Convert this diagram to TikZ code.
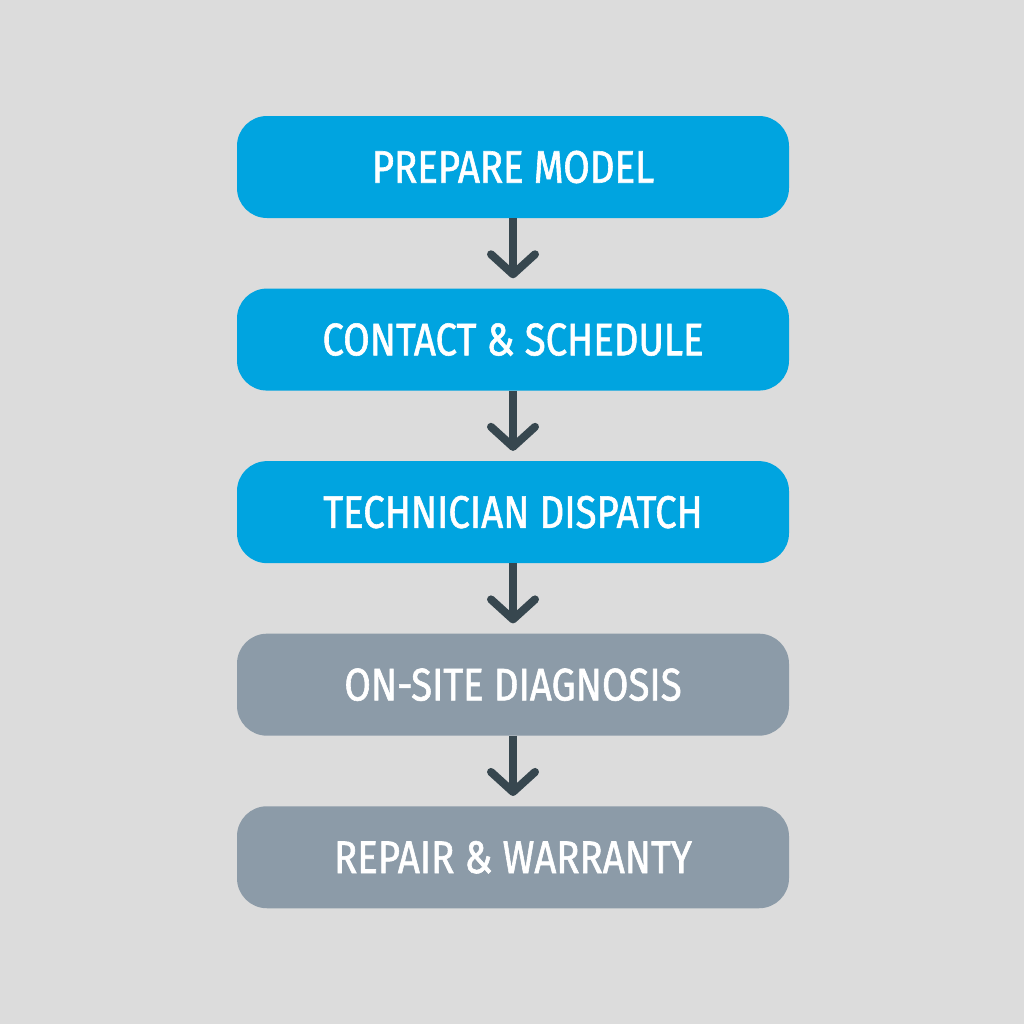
\documentclass[tikz,border=0pt]{standalone}
\usepackage{fontspec}
\setmainfont{Fira Sans}[FakeStretch=0.84,FakeBold=1.3]
\usetikzlibrary{positioning,arrows.meta}
\definecolor{bgGrey}{RGB}{220,220,220}
\definecolor{stepBlue}{RGB}{0,164,224}
\definecolor{stepGrey}{RGB}{140,155,168}
\definecolor{arrowDark}{RGB}{55,71,79}

\begin{document}
\begin{tikzpicture}[->,>={Straight Barb[length=0.5cm,width=1.1cm,round]},shorten >=0.25cm,
  node distance=1.75cm,
  step box/.style={rectangle,rounded corners=0.75cm,minimum width=13.8cm,minimum height=2.55cm,
    inner sep=0pt,text=white,font=\fontsize{32.5}{38}\selectfont},
  blue box/.style={step box,fill=stepBlue},
  grey box/.style={step box,fill=stepGrey}]
  \fill[bgGrey] (0,0) rectangle (25.6,-25.6);
  \useasboundingbox (0,0) rectangle (25.6,-25.6);
   \node[blue box] (s_1) at (12.825,-4.175) {PREPARE MODEL};
   \node[blue box] (s_2) [below=of s_1] {CONTACT \& SCHEDULE};
   \node[blue box] (s_3) [below=of s_2] {TECHNICIAN DISPATCH};
   \node[grey box] (s_4) [below=of s_3] {ON-SITE DIAGNOSIS};
   \node[grey box] (s_5) [below=of s_4] {REPAIR \& WARRANTY};
    \path[draw=arrowDark,line width=5.7pt]
    (s_1) edge (s_2)
    (s_2) edge (s_3)
    (s_3) edge (s_4)
    (s_4) edge (s_5);
\end{tikzpicture}
\end{document}
